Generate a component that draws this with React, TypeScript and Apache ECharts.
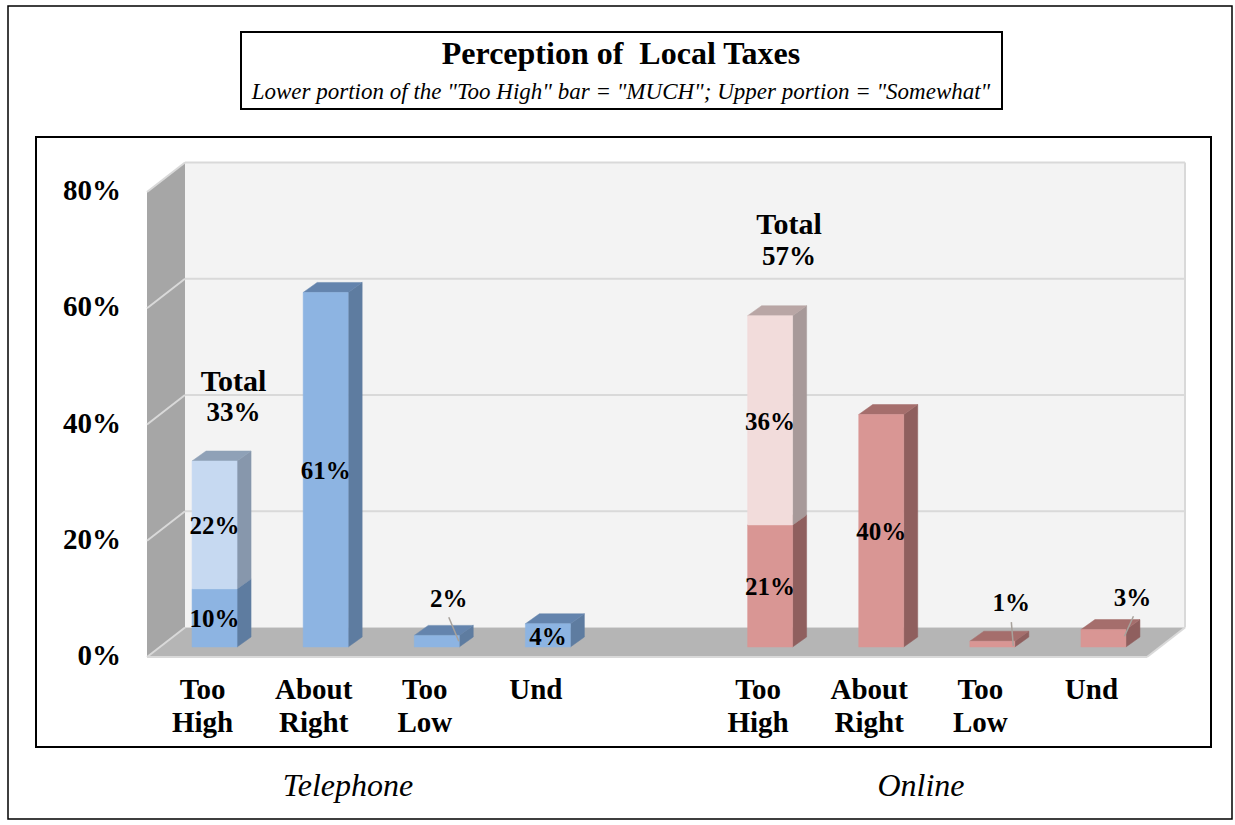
import React, { useEffect, useRef } from "react";
import * as echarts from "echarts";

const categories = ["Too\nHigh", "About\nRight", "Too\nLow", "Und", "", "Too\nHigh", "About\nRight", "Too\nLow", "Und"];
const yTicks = [0, 20, 40, 60, 80];
// category index -> value
const telephoneLowerIdx = [0, 1, 2, 3];
const telephoneLower = [10, 61, 2, 4];
const telephoneUpperIdx = [0];
const telephoneUpper = [22];
const onlineLowerIdx = [5, 6, 7, 8];
const onlineLower = [21, 40, 1, 3];
const onlineUpperIdx = [5];
const onlineUpper = [36];
const totalsIdx = [0, 5];
const totals = [33, 57];
const titleText = "Perception of  Local Taxes";
const subtitleText = 'Lower portion of the "Too High" bar = "MUCH"; Upper portion = "Somewhat"';
const groupNames = ["Telephone", "Online"];

const SERIF = '"Liberation Serif", serif';
const FLOOR_DX = 38;
const FLOOR_DY = -29.5;
const BAR_OFF_X = 12;
const BAR_OFF_Y = -10;
const BAR_W = 45;
const SIDE_DX = 14;
const SIDE_DY = -10;

type Pal = { front: string; side: string; top: string };
const blue: Pal = { front: "#8DB4E2", side: "#5E7CA0", top: "#6484AD" };
const blueLight: Pal = { front: "#C6D9F1", side: "#8797AC", top: "#8FA1B7" };
const red: Pal = { front: "#D99694", side: "#8F5F5E", top: "#A56E6C" };
const redLight: Pal = { front: "#F2DCDB", side: "#A79999", top: "#B9A6A5" };

// Label shift from the centre of the bar's front face, and leader line ends, in pixels
const labelNudge: Record<string, { x: number; y: number; line?: number[] }> = {
  "2:2": { x: 12, y: -44, line: [0, 20, 10, 44] },
  "7:1": { x: 19, y: -43, line: [0, 21, 2, 45] },
  "8:3": { x: 29, y: -42, line: [1, 20, -8, 40] },
};

function barRenderer(pal: Pal) {
  return (params: any, api: any) => {
    const idx = api.value(0);
    const base = api.coord([idx, api.value(1)]);
    const top = api.coord([idx, api.value(2)]);
    const l = base[0] - BAR_W / 2 + BAR_OFF_X;
    const r = l + BAR_W;
    const b = base[1] + BAR_OFF_Y;
    const t = top[1] + BAR_OFF_Y;
    const poly = (points: number[][], fill: string) => ({
      type: "polygon",
      shape: { points },
      style: { fill, stroke: fill, lineWidth: 0.5 },
    });
    return {
      type: "group",
      children: [
        poly([[r, b], [r + SIDE_DX, b + SIDE_DY], [r + SIDE_DX, t + SIDE_DY], [r, t]], pal.side),
        poly([[l, t], [r, t], [r + SIDE_DX, t + SIDE_DY], [l + SIDE_DX, t + SIDE_DY]], pal.top),
        poly([[l, b], [r, b], [r, t], [l, t]], pal.front),
      ],
    };
  };
}

function renderWalls(params: any, api: any) {
  const g = params.coordSys;
  const x0 = g.x;
  const x1 = g.x + g.width;
  const yb = g.y + g.height;
  const yt = g.y;
  const bx0 = x0 + FLOOR_DX;
  const bx1 = x1 + FLOOR_DX;
  const line = "#D9D9D9";
  const children: any[] = [
    { type: "polygon", shape: { points: [[bx0, yb + FLOOR_DY], [bx1, yb + FLOOR_DY], [bx1, yt + FLOOR_DY], [bx0, yt + FLOOR_DY]] }, style: { fill: "#F3F3F3" } },
    { type: "polygon", shape: { points: [[x0, yb], [bx0, yb + FLOOR_DY], [bx0, yt + FLOOR_DY], [x0, yt]] }, style: { fill: "#A6A6A6" } },
    { type: "polygon", shape: { points: [[x0, yb], [x1, yb], [bx1, yb + FLOOR_DY], [bx0, yb + FLOOR_DY]] }, style: { fill: "#B5B5B5" } },
  ];
  const seg = (a: number[], b: number[]) => ({
    type: "line",
    shape: { x1: a[0], y1: a[1], x2: b[0], y2: b[1] },
    style: { stroke: line, lineWidth: 2, fill: "none" },
  });
  yTicks.forEach((v) => {
    const y = api.coord([0, v])[1];
    if (v > 0) {
      children.push(seg([x0, y], [bx0, y + FLOOR_DY]));
      children.push(seg([bx0, y + FLOOR_DY], [bx1, y + FLOOR_DY]));
    }
  });
  children.push(seg([bx1, yt + FLOOR_DY], [bx1, yb + FLOOR_DY]));
  children.push(seg([x0, yb], [x1, yb]));
  children.push(seg([x0, yb], [bx0, yb + FLOOR_DY]));
  children.push(seg([x1, yb], [bx1, yb + FLOOR_DY]));
  return { type: "group", children };
}

function renderLabel(params: any, api: any) {
  const idx = api.value(0);
  const start = api.value(1);
  const v = api.value(2);
  const p = api.coord([idx, start + v / 2]);
  const cx = p[0] + BAR_OFF_X;
  const cy = p[1] + BAR_OFF_Y;
  const nudge = labelNudge[`${idx}:${v}`] || { x: 0, y: 0 };
  const children: any[] = [];
  if (nudge.line) {
    const [a, b, c, d] = nudge.line;
    children.push({
      type: "line",
      shape: { x1: cx + nudge.x + a, y1: cy + nudge.y + b, x2: cx + nudge.x + c, y2: cy + nudge.y + d },
      style: { stroke: "#A8A29C", lineWidth: 1.5 },
    });
  }
  children.push({
    type: "text",
    style: {
      text: `${v}%`,
      x: cx + nudge.x,
      y: cy + nudge.y + 1,
      align: "center",
      verticalAlign: "middle",
      font: `bold 25px ${SERIF}`,
      fill: "#000",
    },
  });
  return { type: "group", children };
}

function renderTotal(params: any, api: any) {
  const idx = api.value(0);
  const p = api.coord([idx, api.value(1)]);
  const gap = idx === 0 ? 65 : 76;
  const x = p[0] + BAR_OFF_X + 19;
  const y = p[1] + BAR_OFF_Y - gap;
  const line = (text: string, dy: number, size: number) => ({
    type: "text",
    style: { text, x, y: y + dy, align: "center", verticalAlign: "middle", font: `bold ${size}px ${SERIF}`, fill: "#000" },
  });
  return {
    type: "group",
    children: [line("Total", -16, 30), line(`${api.value(2)}%`, 16, 27)],
  };
}

const rows = (idx: number[], vals: number[], starts?: number[]) =>
  idx.map((c, i) => {
    const s = starts ? starts[i] : 0;
    return [c, s, s + vals[i]];
  });

const barSeries = (name: string, data: number[][], pal: Pal, z: number) => ({
  type: "custom",
  name,
  silent: true,
  z,
  clip: false,
  coordinateSystem: "cartesian2d",
  encode: { x: 0, y: [1, 2] },
  renderItem: barRenderer(pal),
  data,
});

const labelRows = [
  ...telephoneLowerIdx.map((c, i) => [c, 0, telephoneLower[i]]),
  ...telephoneUpperIdx.map((c, i) => [c, telephoneLower[telephoneLowerIdx.indexOf(c)], telephoneUpper[i]]),
  ...onlineLowerIdx.map((c, i) => [c, 0, onlineLower[i]]),
  ...onlineUpperIdx.map((c, i) => [c, onlineLower[onlineLowerIdx.indexOf(c)], onlineUpper[i]]),
];

const totalRows = totalsIdx.map((c, i) => {
  const tel = c < 4;
  const lowerVals = tel ? telephoneLower : onlineLower;
  const lowerIdx = tel ? telephoneLowerIdx : onlineLowerIdx;
  const upperVals = tel ? telephoneUpper : onlineUpper;
  return [c, lowerVals[lowerIdx.indexOf(c)] + upperVals[0], totals[i]];
});

export default function App() {
  const ref = useRef<HTMLDivElement>(null);
  useEffect(() => {
    const chart = echarts.init(ref.current!, undefined, { renderer: "svg" });
    const frame = (x: number, y: number, width: number, height: number, lineWidth: number) => ({
      type: "rect",
      shape: { x, y, width, height },
      style: { fill: "#fff", stroke: "#000", lineWidth },
      z: -10,
      silent: true,
    });
    chart.setOption({
      animation: false,
      backgroundColor: "#fff",
      title: {
        text: titleText,
        subtext: subtitleText,
        left: 616,
        top: 30,
        textAlign: "center",
        itemGap: 6,
        z: 20,
        textStyle: { fontFamily: SERIF, fontWeight: "bold", fontSize: 32, color: "#000", lineHeight: 36 },
        subtextStyle: { fontFamily: SERIF, fontStyle: "italic", fontSize: 23, color: "#000", lineHeight: 28 },
      },
      grid: { left: 147, top: 192, width: 1000, height: 465, containLabel: false },
      xAxis: {
        type: "category",
        data: categories,
        axisLine: { show: false },
        axisTick: { show: false },
        splitLine: { show: false },
        axisLabel: {
          interval: 0,
          margin: 15,
          fontFamily: SERIF,
          fontWeight: "bold",
          fontSize: 29,
          lineHeight: 33,
          color: "#000",
          verticalAlign: "top",
        },
      },
      yAxis: {
        type: "value",
        min: 0,
        max: 80,
        interval: 20,
        axisLine: { show: false },
        axisTick: { show: false },
        splitLine: { show: false },
        axisLabel: {
          margin: 26,
          formatter: "{value}%",
          fontFamily: SERIF,
          fontWeight: "bold",
          fontSize: 29,
          color: "#000",
          verticalAlign: "bottom",
          lineHeight: 4,
        },
      },
      graphic: [
        frame(8, 6, 1224, 813, 1.5),
        frame(36, 137, 1175, 610, 2),
        frame(241, 32, 761, 77, 2),
        {
          type: "text",
          silent: true,
          z: 20,
          style: { text: groupNames[0], x: 348, y: 785, align: "center", verticalAlign: "middle", font: `italic 32px ${SERIF}`, fill: "#000" },
        },
        {
          type: "text",
          silent: true,
          z: 20,
          style: { text: groupNames[1], x: 921, y: 785, align: "center", verticalAlign: "middle", font: `italic 32px ${SERIF}`, fill: "#000" },
        },
      ],
      series: [
        { type: "custom", name: "walls", silent: true, z: 1, clip: false, coordinateSystem: "cartesian2d", encode: { x: 0, y: 1 }, renderItem: renderWalls, data: [[0, 0]] },
        barSeries("Telephone lower", rows(telephoneLowerIdx, telephoneLower), blue, 2),
        barSeries("Telephone upper", rows(telephoneUpperIdx, telephoneUpper, [telephoneLower[0]]), blueLight, 3),
        barSeries("Online lower", rows(onlineLowerIdx, onlineLower), red, 2),
        barSeries("Online upper", rows(onlineUpperIdx, onlineUpper, [onlineLower[0]]), redLight, 3),
        { type: "custom", name: "labels", silent: true, z: 5, clip: false, coordinateSystem: "cartesian2d", encode: { x: 0, y: 1 }, renderItem: renderLabel, data: labelRows },
        { type: "custom", name: "totals", silent: true, z: 5, clip: false, coordinateSystem: "cartesian2d", encode: { x: 0, y: 1 }, renderItem: renderTotal, data: totalRows },
      ],
    });
    return () => chart.dispose();
  }, []);
  return <div ref={ref} style={{ position: "fixed", left: 0, top: 0, width: 1235, height: 825 }} />;
}
